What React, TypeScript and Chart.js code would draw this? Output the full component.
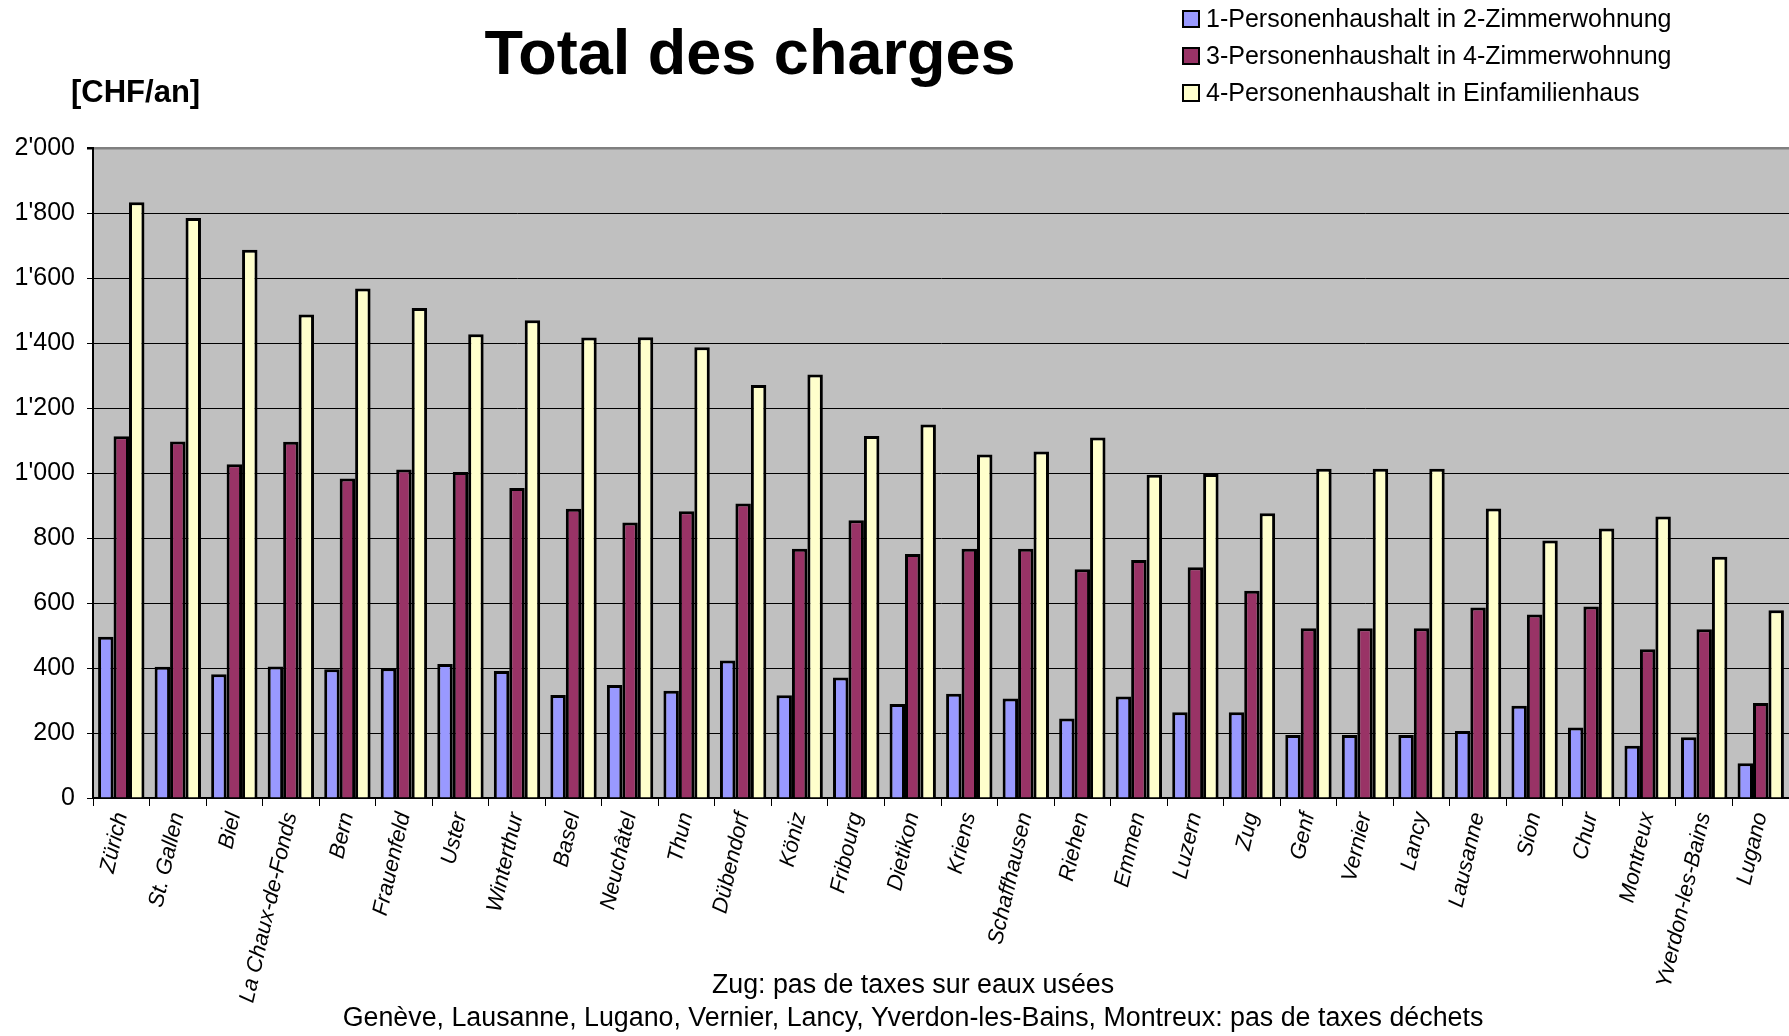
import React, { useEffect, useRef } from "react";
import { Chart, registerables } from "chart.js";

Chart.register(...registerables);

const FONT = '"Liberation Sans", Arial, Helvetica, sans-serif';

const titleText = "Total des charges";
const unitText = "[CHF/an]";
const footnoteLines = [
  "Zug: pas de taxes sur eaux usées",
  "Genève, Lausanne, Lugano, Vernier, Lancy, Yverdon-les-Bains, Montreux: pas de taxes déchets",
];

const categories = [
  "Zürich", "St. Gallen", "Biel", "La Chaux-de-Fonds", "Bern", "Frauenfeld", "Uster",
  "Winterthur", "Basel", "Neuchâtel", "Thun", "Dübendorf", "Köniz", "Fribourg", "Dietikon",
  "Kriens", "Schaffhausen", "Riehen", "Emmen", "Luzern", "Zug", "Genf", "Vernier", "Lancy",
  "Lausanne", "Sion", "Chur", "Montreux", "Yverdon-les-Bains", "Lugano",
];

const seriesNames = [
  "1-Personenhaushalt in 2-Zimmerwohnung",
  "3-Personenhaushalt in 4-Zimmerwohnung",
  "4-Personenhaushalt in Einfamilienhaus",
];

const onePerson = [
  496, 404, 381, 405, 396, 399, 412, 391, 317, 348, 330, 423, 316, 371, 289,
  321, 306, 245, 312, 264, 264, 194, 194, 194, 206, 284, 217, 161, 187, 107,
];
const threePerson = [
  1113, 1097, 1027, 1096, 983, 1011, 1003, 954, 890, 848, 882, 906, 767, 855, 751,
  767, 767, 704, 732, 710, 638, 522, 522, 522, 586, 565, 589, 458, 519, 292,
];
const fourPerson = [
  1833, 1785, 1687, 1488, 1568, 1508, 1427, 1470, 1417, 1418, 1387, 1271, 1303, 1114, 1149,
  1057, 1066, 1109, 995, 997, 876, 1013, 1013, 1013, 891, 792, 829, 866, 742, 578,
];

const seriesColors = ["#9999FF", "#993366", "#FFFFCC"];

const yMin = 0;
const yMax = 2000;
const yStep = 200;

function formatCHF(v: number): string {
  if (v >= 1000) {
    const th = Math.floor(v / 1000);
    const rest = String(v % 1000).padStart(3, "0");
    return `${th}'${rest}`;
  }
  return String(v);
}

const plotBgPlugin = {
  id: "plotBg",
  beforeDraw(chart: any) {
    const { ctx, chartArea } = chart;
    ctx.save();
    ctx.fillStyle = "#C0C0C0";
    ctx.fillRect(chartArea.left, chartArea.top, chartArea.right - chartArea.left, chartArea.bottom - chartArea.top);
    ctx.restore();
  },
};

const textPlugin = {
  id: "texts",
  afterDraw(chart: any) {
    const ctx = chart.ctx;
    ctx.save();
    ctx.fillStyle = "#000";
    ctx.textBaseline = "alphabetic";

    ctx.font = `bold 63px ${FONT}`;
    ctx.textAlign = "center";
    ctx.fillText(titleText, 750, 74);

    ctx.font = `bold 31px ${FONT}`;
    ctx.textAlign = "left";
    ctx.fillText(unitText, 71, 102);

    ctx.font = `26.8px ${FONT}`;
    ctx.textAlign = "center";
    ctx.fillText(footnoteLines[0], 913, 993);
    ctx.fillText(footnoteLines[1], 913, 1026);

    // legend
    const rows = [19, 56, 93];
    chart.data.datasets.forEach((ds: any, i: number) => {
      const cy = rows[i];
      const bx = 1183;
      const bs = 16;
      ctx.fillStyle = ds.backgroundColor;
      ctx.fillRect(bx, cy - bs / 2, bs, bs);
      ctx.strokeStyle = "#000";
      ctx.lineWidth = 2;
      ctx.strokeRect(bx, cy - bs / 2, bs, bs);
      ctx.fillStyle = "#000";
      ctx.font = `25px ${FONT}`;
      ctx.textAlign = "left";
      ctx.textBaseline = "middle";
      ctx.fillText(ds.label, 1206, cy + 1);
    });
    ctx.restore();
  },
};

export default function App() {
  const canvasRef = useRef<HTMLCanvasElement | null>(null);

  useEffect(() => {
    document.body.style.margin = "0";
    const canvas = canvasRef.current;
    if (!canvas) return;
    const chart = new Chart(canvas, {
      type: "bar",
      data: {
        labels: categories,
        datasets: [
          { label: seriesNames[0], data: onePerson, backgroundColor: seriesColors[0] },
          { label: seriesNames[1], data: threePerson, backgroundColor: seriesColors[1] },
          { label: seriesNames[2], data: fourPerson, backgroundColor: seriesColors[2] },
        ].map((d) => ({
          ...d,
          borderColor: "#000000",
          borderWidth: 3,
          barPercentage: 1.0,
          categoryPercentage: 0.82,
        })),
      },
      options: {
        responsive: false,
        animation: false,
        devicePixelRatio: 1,
        layout: { padding: { top: 148, left: 0, right: 0, bottom: 0 }, autoPadding: false },
        plugins: {
          legend: { display: false },
          title: { display: false },
          tooltip: { enabled: false },
        },
        scales: {
          x: {
            type: "category",
            grid: {
              display: true,
              offset: true,
              drawOnChartArea: false,
              drawTicks: true,
              tickLength: 8,
              color: "#000",
              lineWidth: 1,
            },
            border: { display: true, color: "#000", width: 2 },
            ticks: {
              autoSkip: false,
              maxRotation: 77,
              minRotation: 77,
              padding: 4,
              color: "#000",
              font: { family: FONT, size: 22, style: "italic" },
            },
            afterFit(scale: any) {
              scale.height = 1036 - 798;
              scale.paddingLeft = 0;
              scale.paddingRight = 0;
            },
          },
          y: {
            min: yMin,
            max: yMax,
            grid: {
              color: (c: any) => (c.tick && c.tick.value === yMax ? "#808080" : "#000000"),
              lineWidth: (c: any) => (c.tick && c.tick.value === yMax ? 2.5 : 1),
              tickColor: "#000",
              tickLength: 6,
              drawTicks: true,
            },
            border: { display: true, color: "#000", width: 2 },
            ticks: {
              stepSize: yStep,
              padding: 12,
              color: "#000",
              font: { family: FONT, size: 25 },
              callback: (v: any) => formatCHF(Number(v)),
            },
            afterFit(scale: any) {
              scale.width = 93;
              scale.paddingTop = 0;
              scale.paddingBottom = 0;
            },
          },
        },
      },
      plugins: [plotBgPlugin, textPlugin],
    });
    return () => chart.destroy();
  }, []);

  return (
    <canvas
      ref={canvasRef}
      width={1789}
      height={1036}
      style={{ display: "block", width: 1789, height: 1036 }}
    />
  );
}
